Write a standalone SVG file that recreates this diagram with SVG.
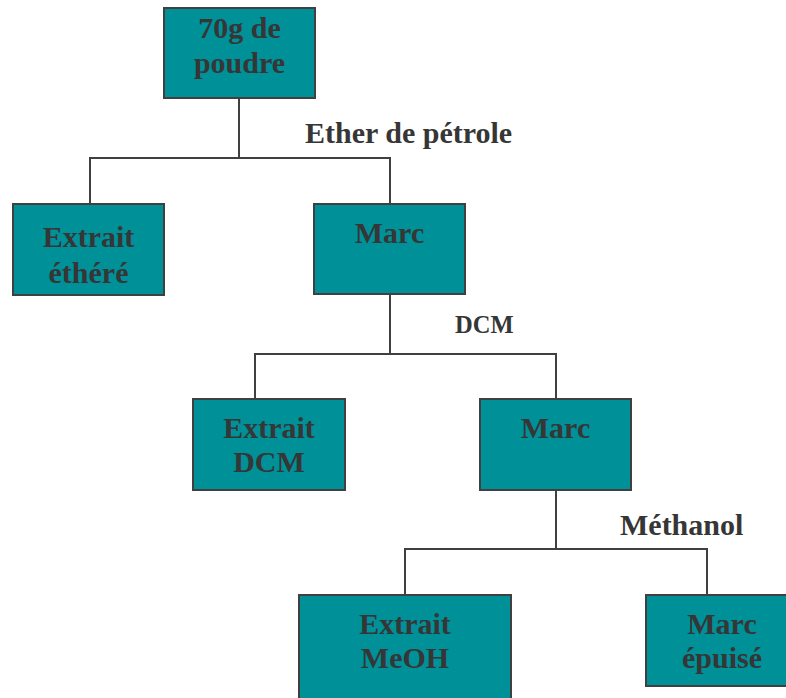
<svg xmlns="http://www.w3.org/2000/svg" width="786" height="698" viewBox="0 0 786 698">
<style>
.box{fill:#009098;stroke:#404040;stroke-width:2}
.t{font-family:"Liberation Serif","Times New Roman",serif;font-weight:bold;font-size:30px;fill:#363636;text-anchor:middle}
.lbl{font-family:"Liberation Serif","Times New Roman",serif;font-weight:bold;font-size:30px;fill:#363636}
.c{fill:none;stroke:#404040;stroke-width:2}
</style>
<rect width="786" height="698" fill="#fff"/>
<g id="connectors">
<path class="c" d="M239,98 V158 M90,204 V158 H390 V204"/>
<path class="c" d="M390,294 V354 M255,399 V354 H556 V399"/>
<path class="c" d="M556,490 V549 M405,595 V549 H707 V595"/>
<text class="lbl" x="305" y="143">Ether de pétrole</text>
<text class="lbl" x="455" y="333" style="font-size:24.5px">DCM</text>
<text class="lbl" x="620" y="535">Méthanol</text>
</g>
<g id="n1"><rect class="box" x="164" y="8" width="151" height="90"/><text class="t" x="239.5" y="38">70g de</text><text class="t" x="239.5" y="73">poudre</text></g>
<g id="n2"><rect class="box" x="13" y="204" width="151" height="91"/><text class="t" x="88.5" y="247">Extrait</text><text class="t" x="88.5" y="283">éthéré</text></g>
<g id="n3"><rect class="box" x="314" y="204" width="151" height="90"/><text class="t" x="389.5" y="243">Marc</text></g>
<g id="n4"><rect class="box" x="193" y="399" width="152" height="91"/><text class="t" x="269" y="438">Extrait</text><text class="t" x="269" y="472">DCM</text></g>
<g id="n5"><rect class="box" x="480" y="399" width="151" height="91"/><text class="t" x="555.5" y="438">Marc</text></g>
<g id="n6"><rect class="box" x="299" y="595" width="212" height="110"/><text class="t" x="405" y="634">Extrait</text><text class="t" x="405" y="668">MeOH</text></g>
<g id="n7"><rect class="box" x="646" y="595" width="150" height="91"/><text class="t" x="722" y="634">Marc</text><text class="t" x="722" y="668">épuisé</text></g>
</svg>
